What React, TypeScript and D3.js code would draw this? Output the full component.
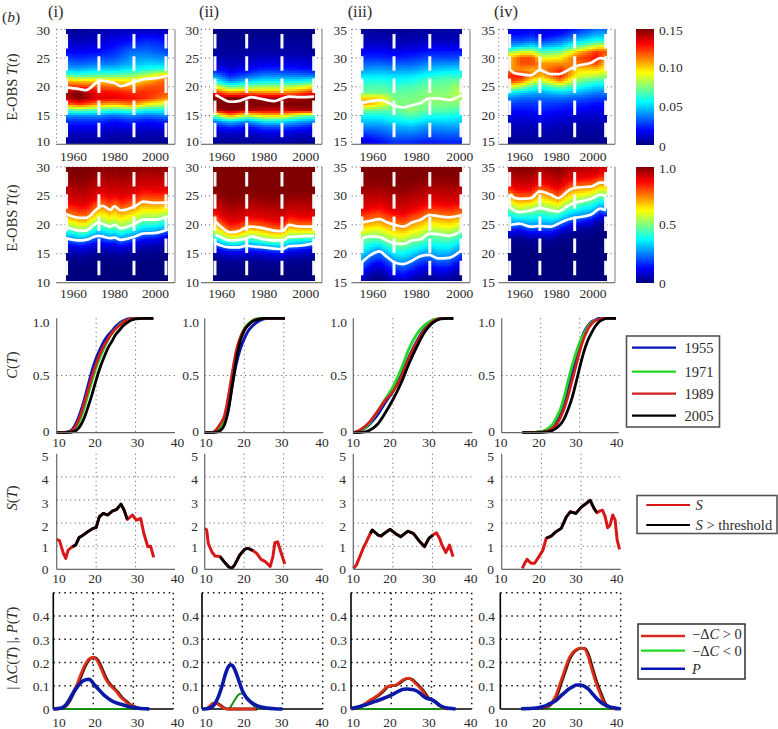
import React from "react";
import * as d3 from "d3";

// ---------- DATA ----------
const heatYearTicks = [1960, 1980, 2000];
const tempTicksLow = [30, 25, 20, 15, 10];
const tempTicksHigh = [35, 30, 25, 20, 15];
const cdfTicks = [0, 0.5, 1];
const sTicks = [0, 1, 2, 3, 4, 5];
const dTicks = [0, 0.1, 0.2, 0.3, 0.4];
const tempAxisTicks = [10, 20, 30, 40];
const panelNames = ["(i)", "(ii)", "(iii)", "(iv)"];
const pdfBarTicks = [0, 0.05, 0.1, 0.15];
const pdfBarLabels = ["0", "0.05", "0.10", "0.15"];
const cdfBarTicks = [0, 0.5, 1];
const cdfBarLabels = ["0", "0.5", "1.0"];
const legendYears = ["1955", "1971", "1989", "2005"];

const dashYears_i = [1956.6, 1972.4, 1989.5, 2005.1];
const dashYears_ii = [1956.8, 1971.9, 1988.7, 2003.8];
const dashYears_iii = [1954.9, 1969.7, 1986.2, 2000.6];
const dashYears_iv = [1954.5, 1971, 1990, 2006.9];

// PDF heat maps (values in units of 0.01): rows are temperatures, columns are years
const pdfYears_i = [1956, 1963, 1972, 1980, 1988, 1996, 2006];
const pdfTemps_i = [30, 28, 26, 25, 24, 23, 22, 21, 20, 19, 18, 17, 16, 15, 14, 12, 10];
const pdfRows_i = [
  [0.3, 0.3, 0.5, 0.8, 0.8, 0.8, 0.8],
  [1, 0.8, 1, 1.6, 2, 2.5, 2],
  [2, 1.8, 2, 2.5, 3.5, 3.5, 3],
  [2.7, 2.5, 2.8, 3, 4, 4.2, 3.8],
  [3.5, 3.3, 3.6, 3.8, 4.5, 5, 4.8],
  [4.5, 4.5, 5, 5, 5.5, 6, 6.5],
  [7, 6.5, 7, 7, 7.5, 8.5, 10.5],
  [10.5, 10, 10, 10, 9.5, 10.5, 12],
  [12.5, 12.5, 12, 11.5, 11, 12, 12],
  [14.5, 15, 13, 13, 12.5, 12.5, 12],
  [14, 15, 13.5, 13.5, 13, 12.5, 11],
  [11.5, 12.5, 11, 10.5, 11.5, 9.5, 8.5],
  [7, 7.5, 7, 6.5, 7, 6, 6],
  [4, 4, 4, 3.5, 4, 3.5, 4],
  [2.5, 2.5, 2.5, 2, 2.5, 2, 2.5],
  [1, 1, 1, 0.8, 0.8, 0.8, 0.8],
  [0.3, 0.3, 0.3, 0.3, 0.2, 0.2, 0.2],
];
const pdfYears_ii = [1957, 1964, 1972, 1980, 1988, 1996, 2004];
const pdfTemps_ii = [30, 26, 24, 23, 22, 21, 20, 19, 18, 17, 16, 15, 14, 13, 12, 10];
const pdfRows_ii = [
  [0.1, 0.1, 0.1, 0.1, 0.1, 0.1, 0.1],
  [0.5, 0.4, 0.5, 0.6, 0.6, 0.6, 0.5],
  [1.2, 0.8, 1.2, 1.5, 1.5, 1.4, 1.2],
  [2, 1.4, 1.8, 2.4, 2.4, 2.2, 2],
  [3.8, 2.2, 3, 3.8, 3.7, 3.6, 3.4],
  [5.8, 3.8, 4.8, 5.4, 5.4, 5.4, 6],
  [9, 6.8, 7.5, 8, 8, 8.5, 9.5],
  [12.5, 11, 11.5, 11, 11, 11.5, 13],
  [15, 15, 15, 14.5, 14.5, 14.5, 15],
  [15, 15, 15, 15, 15, 15, 15],
  [14.5, 15, 14.5, 14, 14, 14.5, 14.5],
  [7.5, 11, 8.5, 10, 10, 8, 7],
  [3.8, 5, 4, 5.5, 5.5, 4.5, 4],
  [2, 2.5, 2, 3, 3, 2.6, 2],
  [1, 1.2, 1, 1.5, 1.5, 1.2, 1],
  [0.2, 0.2, 0.2, 0.3, 0.3, 0.2, 0.2],
];
const pdfYears_iii = [1955, 1963, 1970, 1978, 1986, 1994, 2001];
const pdfTemps_iii = [35, 33, 32, 30, 28, 27, 26, 25, 24, 23, 22, 21, 20, 18, 16, 15];
const pdfRows_iii = [
  [0.3, 0.4, 0.3, 0.3, 0.4, 0.5, 0.4],
  [0.8, 0.8, 0.7, 0.8, 0.9, 0.9, 0.9],
  [1.3, 1.3, 1.1, 1.2, 1.5, 1.5, 1.5],
  [2.5, 2.5, 2.3, 2.5, 3, 2.9, 3],
  [4.1, 4.3, 4.1, 4.1, 4.8, 5, 5.2],
  [5.1, 5.3, 5, 5.2, 5.8, 6.2, 6.2],
  [6, 6.2, 5.8, 6, 6.8, 7, 7.2],
  [6.6, 6.8, 6.5, 6.7, 7.2, 7.3, 8.2],
  [7.1, 7.2, 7, 7.1, 7.6, 7.6, 8.6],
  [10, 10, 7.4, 7.4, 7.8, 7.8, 8.2],
  [11, 9.6, 7.4, 7.6, 7.5, 7.5, 7.5],
  [7.6, 7.3, 7, 7.8, 7, 7, 6.6],
  [5.8, 5.8, 6.3, 6.9, 6, 6, 5.6],
  [3.8, 3.9, 4.4, 4.6, 4, 4.2, 4.2],
  [1.8, 2.4, 3, 3, 2.6, 2.8, 2.8],
  [1.1, 1.8, 2.4, 2.2, 2, 2.2, 2.2],
];
const pdfYears_iv = [1955, 1961, 1967, 1972, 1982, 1992, 2002, 2007];
const pdfTemps_iv = [35, 34, 33, 32, 31, 30, 29, 28, 27, 26, 25, 24, 23, 22, 20, 18, 15];
const pdfRows_iv = [
  [1.5, 1.5, 1.8, 1.2, 1.5, 2.5, 3.5, 3.5],
  [2, 2, 2.4, 1.6, 2.2, 3.5, 4.5, 4.5],
  [3, 3, 3.5, 2.6, 3.5, 5, 6, 6],
  [4.5, 5, 5.5, 4.5, 5, 7, 9, 9.5],
  [8, 9, 9, 7, 7.5, 10.5, 12.5, 12],
  [10.5, 12, 12, 9, 9.5, 12, 13, 11],
  [10.5, 12, 12, 11, 11, 11.5, 12, 10],
  [11, 11, 10.5, 11, 12.5, 10, 10, 9.5],
  [12.5, 13, 11.5, 10.5, 13, 9, 8.5, 8],
  [12.5, 11.5, 9, 8.5, 11, 7.5, 6.5, 6.5],
  [9, 8, 6.5, 6, 7.5, 6, 5, 5],
  [5.5, 5, 4.6, 4.4, 5, 4.5, 3.8, 3.8],
  [3.8, 3.4, 3.4, 3.4, 3.5, 3.2, 2.8, 2.8],
  [2.8, 2.6, 2.6, 2.8, 2.6, 2.4, 2, 2],
  [1.5, 1.5, 1.6, 1.8, 1.5, 1.2, 1.1, 1.1],
  [0.8, 0.8, 0.8, 1, 0.8, 0.6, 0.6, 0.6],
  [0.3, 0.3, 0.3, 0.3, 0.3, 0.2, 0.2, 0.2],
];

// White quantile lines, year by year
const lineYears_i = [1956, 1963, 1966, 1972, 1974, 1978, 1980, 1983, 1990, 1994, 2000, 2006];
const q75_i = [21.9, 21.2, 21.2, 22.9, 23.3, 22.6, 23.2, 22.5, 23.2, 24, 23.8, 23.9];
const q50_i = [19.7, 19, 19, 20.4, 20.2, 19.7, 20, 19.4, 20.2, 20.9, 20.9, 21.5];
const q25_i = [17.7, 17.3, 17.4, 18.1, 18, 17.7, 17.8, 17.4, 18, 18.5, 18.6, 19.2];
const mid_i = [19.9, 19.6, 19.4, 20.9, 21.1, 20.8, 20.7, 20.1, 20.9, 21.3, 21.5, 21.9];

const lineYears_ii = [1957, 1959, 1964, 1968, 1972, 1974, 1980, 1985, 1989, 1992, 1997, 2004];
const q75_ii = [20.6, 19.9, 18.7, 18.9, 19.6, 19.7, 19.4, 19, 18.9, 20, 19.7, 19.7];
const q50_ii = [18.3, 18, 17.3, 17.4, 17.7, 18, 17.5, 17.3, 17.3, 17.9, 18, 18.1];
const q25_ii = [16.9, 16.5, 16.1, 16.1, 16.4, 16.3, 16.1, 15.9, 15.8, 16.3, 16.4, 16.8];
const mid_ii = [18.6, 18.2, 17.4, 17.5, 18, 18.2, 17.8, 17.5, 18, 18.3, 18.2, 18.3];

const lineYears_iii = [1955, 1959, 1963, 1966, 1970, 1974, 1978, 1982, 1986, 1990, 1995, 2001];
const q75_iii = [25.4, 25.7, 26, 25.5, 25, 24.7, 25.4, 25.9, 26.7, 26.5, 26.3, 26.7];
const q50_iii = [22.7, 23, 22.9, 22.4, 21.8, 21.7, 22.3, 22.5, 23.5, 23.4, 23.1, 24];
const q25_iii = [18.6, 19.8, 20.4, 19.6, 18.5, 18.2, 18.8, 19.6, 19.8, 19.2, 19.3, 20.7];
const mid_iii = [22.2, 22.5, 22.7, 22.4, 21.7, 21.4, 21.8, 22.2, 23, 23, 22.7, 23.6];

const lineYears_iv = [1955, 1957, 1960, 1966, 1971, 1977, 1981, 1987, 1990, 1999, 2004, 2007];
const q75_iv = [30.3, 29.7, 29.5, 29.6, 30.8, 30.2, 29.6, 31, 31.4, 31.6, 32.3, 32.3];
const q50_iv = [28, 27.5, 27.2, 27.5, 27.9, 27.5, 27.3, 28.4, 28.8, 29.5, 30.2, 30];
const q25_iv = [25, 25.1, 25.2, 24.7, 24.8, 24.7, 25.2, 26, 26.2, 26.8, 27.8, 27.5];
const mid_iv = [27.9, 27.4, 27.2, 27, 27.9, 27.2, 27.2, 28, 28.5, 29.2, 30, 29.8];

// Distance of the 2%, 10% and 90%, 98% levels from the nearest quartile (degrees)
const tails_i = [-3, -1.3, 2.3, 6];
const tails_ii = [-2.5, -1, 1.8, 5];
const tails_iii = [-4, -2.3, 2.4, 6];
const tails_iv = [-2.5, -1.3, 1.8, 4.5];

// C(T)
const cT_i = [10, 12, 13, 14, 15, 16, 17, 18, 19, 20, 21, 22, 23, 24, 25, 26, 27, 28, 29, 30, 32, 34.5];
const c1955_i = [0, 0.002, 0.01, 0.03, 0.09, 0.18, 0.29, 0.42, 0.55, 0.65, 0.73, 0.8, 0.85, 0.89, 0.93, 0.96, 0.98, 0.995, 1, 1, 1, 1];
const c1971_i = [0, 0.001, 0.005, 0.015, 0.05, 0.12, 0.22, 0.34, 0.46, 0.57, 0.66, 0.74, 0.81, 0.87, 0.91, 0.945, 0.97, 0.985, 0.995, 1, 1, 1];
const c1989_i = [0, 0.002, 0.008, 0.02, 0.07, 0.15, 0.26, 0.38, 0.5, 0.6, 0.69, 0.76, 0.82, 0.87, 0.91, 0.94, 0.97, 0.985, 0.995, 1, 1, 1];
const c2005_i = [0, 0, 0.002, 0.008, 0.02, 0.06, 0.13, 0.23, 0.34, 0.46, 0.57, 0.66, 0.74, 0.8, 0.86, 0.9, 0.94, 0.965, 0.985, 0.995, 1, 1];

const cT_ii = [10, 12, 13, 14, 15, 16, 17, 18, 19, 20, 21, 22, 23, 24, 25, 26, 28, 30.3];
const c1955_ii = [0, 0.002, 0.01, 0.03, 0.08, 0.21, 0.42, 0.6, 0.73, 0.82, 0.89, 0.93, 0.96, 0.98, 0.995, 1, 1, 1];
const c1971_ii = [0, 0.002, 0.02, 0.05, 0.12, 0.27, 0.5, 0.7, 0.83, 0.91, 0.95, 0.98, 0.995, 1, 1, 1, 1, 1];
const c1989_ii = [0, 0.003, 0.03, 0.08, 0.15, 0.32, 0.53, 0.72, 0.83, 0.9, 0.94, 0.97, 0.99, 0.995, 1, 1, 1, 1];
const c2005_ii = [0, 0.001, 0.005, 0.02, 0.07, 0.2, 0.42, 0.64, 0.8, 0.89, 0.94, 0.97, 0.985, 0.995, 1, 1, 1, 1];

const cT_iii = [10, 12, 14, 16, 18, 20, 22, 24, 26, 28, 30, 32, 34, 35.2];
const c1955_iii = [0, 0.02, 0.07, 0.15, 0.26, 0.36, 0.5, 0.66, 0.8, 0.91, 0.97, 1, 1, 1];
const c1971_iii = [0, 0.02, 0.08, 0.18, 0.29, 0.4, 0.55, 0.73, 0.86, 0.94, 0.985, 1, 1, 1];
const c1989_iii = [0, 0.03, 0.09, 0.18, 0.28, 0.36, 0.48, 0.65, 0.79, 0.9, 0.97, 1, 1, 1];
const c2005_iii = [0, 0.003, 0.02, 0.07, 0.17, 0.29, 0.43, 0.6, 0.75, 0.88, 0.96, 0.995, 1, 1];

const cT_iv = [15.3, 18, 20, 21, 22, 23, 24, 25, 26, 27, 28, 29, 30, 31, 32, 33, 34, 35, 36, 37, 38, 39.3];
const c1955_iv = [0, 0.002, 0.01, 0.015, 0.03, 0.06, 0.1, 0.16, 0.26, 0.39, 0.52, 0.65, 0.77, 0.87, 0.93, 0.97, 0.985, 1, 1, 1, 1, 1];
const c1971_iv = [0, 0.002, 0.01, 0.02, 0.04, 0.07, 0.13, 0.2, 0.31, 0.45, 0.58, 0.69, 0.79, 0.86, 0.92, 0.96, 0.98, 0.99, 1, 1, 1, 1];
const c1989_iv = [0, 0.001, 0.005, 0.01, 0.02, 0.04, 0.07, 0.13, 0.21, 0.32, 0.45, 0.58, 0.71, 0.82, 0.9, 0.95, 0.98, 0.99, 1, 1, 1, 1];
const c2005_iv = [0, 0, 0.002, 0.005, 0.01, 0.02, 0.04, 0.07, 0.12, 0.2, 0.3, 0.43, 0.57, 0.7, 0.8, 0.87, 0.93, 0.97, 0.99, 1, 1, 1];

// S(T) with the interval in which S exceeds the threshold
const sT_i = [10, 10.7, 11.7, 12.3, 12.9, 14, 14.8, 15.7, 16.7, 17.9, 19.2, 20, 20.8, 21.8, 22.9, 24.2, 25.2, 26.3, 27.1, 27.9, 29.2, 30.2, 31.3, 32.1, 33.1, 33.8, 34.6];
const sV_i = [1.29, 1.24, 0.69, 0.47, 0.83, 0.98, 1.05, 1.38, 1.48, 1.63, 1.77, 1.81, 2.27, 2.42, 2.35, 2.53, 2.59, 2.82, 2.56, 2.16, 2.35, 2.13, 2.2, 1.55, 0.98, 1, 0.52];
const sAbove_i = [14, 27.9];
const sT_ii = [10, 10.5, 10.9, 11.8, 12.6, 13.9, 14.9, 16, 16.8, 17.6, 18.9, 20.1, 21, 22.2, 23.2, 24.3, 25.4, 26.6, 27.3, 27.8, 28.5, 29.3, 30.3];
const sV_ii = [1.77, 1.7, 1.12, 0.76, 0.58, 0.55, 0.33, 0.12, 0.03, 0.19, 0.62, 0.86, 0.91, 0.81, 0.69, 0.43, 0.33, 0.12, 0.55, 1.15, 1.19, 0.76, 0.23];
const sAbove_ii = [13.9, 22.2];
const sT_iii = [10, 10.8, 12.5, 13.3, 14.3, 14.8, 16.3, 17, 17.8, 19.3, 20.8, 22, 23.8, 25.2, 26.6, 28, 29.1, 30.1, 31, 31.8, 32.4, 33.4, 34.3, 35.2];
const sV_iii = [0.04, 0.19, 0.91, 1.19, 1.55, 1.7, 1.48, 1.44, 1.55, 1.73, 1.53, 1.41, 1.65, 1.55, 1.24, 0.98, 1.34, 1.48, 1.58, 1.34, 1.05, 0.73, 1.05, 0.55];
const sAbove_iii = [14.3, 30.1];
const sT_iv = [15.2, 15.8, 16.4, 17.4, 18.3, 19.1, 20.4, 21.2, 22.5, 23.7, 25, 26.3, 27.3, 28.7, 30, 31.3, 32.3, 33.3, 34, 34.8, 35.4, 36.1, 36.7, 37.3, 38, 38.6, 39.1, 39.7];
const sV_iv = [0.04, 0.26, 0.43, 0.26, 0.26, 0.47, 0.83, 1.34, 1.44, 1.63, 1.77, 2.27, 2.49, 2.42, 2.68, 2.85, 2.99, 2.63, 2.45, 2.53, 2.56, 2.27, 1.8, 1.91, 2.35, 2.13, 1.27, 0.86];
const sAbove_iv = [21.2, 34];

// |dC(T)| and P(T)
const dT_i = [10, 12, 13, 14, 15, 16, 17, 18, 19, 20, 21, 22, 23, 24, 25, 26, 27, 28, 29, 30, 31, 32];
const dPos_i = [0, 0.003, 0.012, 0.035, 0.07, 0.105, 0.15, 0.19, 0.215, 0.222, 0.21, 0.175, 0.135, 0.108, 0.09, 0.072, 0.05, 0.035, 0.02, 0.012, 0.005, 0];
const dNegT_i = [10, 30];
const dNeg_i = [0, 0];
const pT_i = [10, 12, 13, 14, 15, 16, 17, 18, 19, 20, 21, 22, 23, 24, 25, 26, 27, 28, 29, 30, 31, 32, 33, 34];
const p_i = [0, 0.004, 0.015, 0.04, 0.07, 0.095, 0.115, 0.125, 0.128, 0.11, 0.09, 0.072, 0.055, 0.042, 0.032, 0.025, 0.02, 0.015, 0.01, 0.006, 0.004, 0.002, 0.001, 0];

const dT_ii = [11, 12, 12.8, 13.5, 14.5, 15.5, 16, 23.5];
const dPos_ii = [0, 0.012, 0.025, 0.025, 0.015, 0.004, 0, 0];
const dNegT_ii = [16.8, 17.5, 18, 19, 19.7, 20.5, 21, 22, 23, 24, 25];
const dNeg_ii = [0, 0.02, 0.035, 0.06, 0.067, 0.06, 0.05, 0.03, 0.012, 0.003, 0];
const pT_ii = [10, 11, 12, 13, 14, 15, 16, 16.5, 17, 17.5, 18, 19, 20, 21, 22, 23, 24, 25, 26, 28, 30];
const p_ii = [0, 0.001, 0.004, 0.018, 0.05, 0.1, 0.16, 0.18, 0.19, 0.188, 0.175, 0.13, 0.08, 0.05, 0.032, 0.02, 0.012, 0.007, 0.004, 0.001, 0];

const dT_iii = [10, 12, 14, 15, 16, 18, 19, 20, 21, 22, 23, 24, 25, 26, 27, 28, 29, 30, 31, 32, 33, 34];
const dPos_iii = [0, 0.008, 0.028, 0.04, 0.05, 0.078, 0.095, 0.1, 0.102, 0.112, 0.125, 0.132, 0.128, 0.112, 0.095, 0.075, 0.05, 0.04, 0.03, 0.015, 0.005, 0];
const dNegT_iii = [10, 33];
const dNeg_iii = [0, 0];
const pT_iii = [10, 12, 14, 16, 18, 20, 22, 23, 24, 25, 26, 27, 28, 29, 30, 31, 32, 33, 34, 35, 36];
const p_iii = [0.002, 0.01, 0.02, 0.033, 0.045, 0.06, 0.078, 0.085, 0.086, 0.084, 0.08, 0.07, 0.055, 0.045, 0.04, 0.03, 0.016, 0.008, 0.004, 0.002, 0];

const dT_iv = [20, 21, 22, 23, 24, 25, 26, 27, 28, 29, 30, 31, 32, 33, 34, 35, 36, 37, 38, 39];
const dPos_iv = [0.002, 0.006, 0.012, 0.03, 0.06, 0.11, 0.16, 0.21, 0.24, 0.255, 0.262, 0.26, 0.225, 0.165, 0.11, 0.065, 0.025, 0.01, 0.003, 0];
const dNegT_iv = [20, 38];
const dNeg_iv = [0, 0];
const pT_iv = [15.2, 18, 20, 21, 22, 23, 24, 25, 26, 27, 28, 29, 30, 31, 32, 33, 34, 35, 36, 37, 38, 39, 40];
const p_iv = [0.001, 0.003, 0.007, 0.012, 0.02, 0.028, 0.038, 0.055, 0.07, 0.085, 0.095, 0.103, 0.103, 0.097, 0.085, 0.065, 0.045, 0.03, 0.018, 0.01, 0.006, 0.003, 0];

// ---------- PANEL TABLES ----------
const panels = [
  { dash: dashYears_i, pdfYears: pdfYears_i, pdfTemps: pdfTemps_i, pdfRows: pdfRows_i, lineYears: lineYears_i, q75: q75_i, q50: q50_i, q25: q25_i, mid: mid_i, tails: tails_i, cT: cT_i, c: [c1955_i, c1971_i, c1989_i, c2005_i], sT: sT_i, sV: sV_i, sAbove: sAbove_i, dT: dT_i, dPos: dPos_i, dNegT: dNegT_i, dNeg: dNeg_i, pT: pT_i, p: p_i, ticks: tempTicksLow, tMin: 10, tMax: 30 },
  { dash: dashYears_ii, pdfYears: pdfYears_ii, pdfTemps: pdfTemps_ii, pdfRows: pdfRows_ii, lineYears: lineYears_ii, q75: q75_ii, q50: q50_ii, q25: q25_ii, mid: mid_ii, tails: tails_ii, cT: cT_ii, c: [c1955_ii, c1971_ii, c1989_ii, c2005_ii], sT: sT_ii, sV: sV_ii, sAbove: sAbove_ii, dT: dT_ii, dPos: dPos_ii, dNegT: dNegT_ii, dNeg: dNeg_ii, pT: pT_ii, p: p_ii, ticks: tempTicksLow, tMin: 10, tMax: 30 },
  { dash: dashYears_iii, pdfYears: pdfYears_iii, pdfTemps: pdfTemps_iii, pdfRows: pdfRows_iii, lineYears: lineYears_iii, q75: q75_iii, q50: q50_iii, q25: q25_iii, mid: mid_iii, tails: tails_iii, cT: cT_iii, c: [c1955_iii, c1971_iii, c1989_iii, c2005_iii], sT: sT_iii, sV: sV_iii, sAbove: sAbove_iii, dT: dT_iii, dPos: dPos_iii, dNegT: dNegT_iii, dNeg: dNeg_iii, pT: pT_iii, p: p_iii, ticks: tempTicksHigh, tMin: 15, tMax: 35 },
  { dash: dashYears_iv, pdfYears: pdfYears_iv, pdfTemps: pdfTemps_iv, pdfRows: pdfRows_iv, lineYears: lineYears_iv, q75: q75_iv, q50: q50_iv, q25: q25_iv, mid: mid_iv, tails: tails_iv, cT: cT_iv, c: [c1955_iv, c1971_iv, c1989_iv, c2005_iv], sT: sT_iv, sV: sV_iv, sAbove: sAbove_iv, dT: dT_iv, dPos: dPos_iv, dNegT: dNegT_iv, dNeg: dNeg_iv, pT: pT_iv, p: p_iv, ticks: tempTicksHigh, tMin: 15, tMax: 35 },
];

// ---------- LAYOUT ----------
const FONT = "'Liberation Serif', 'Times New Roman', serif";
const W = 778, H = 729;
const TICK = "#2b2b2b";
const AXIS = "#7d7d7d";
const BLUE = "#0a14b4", GREEN = "#22d822", RED = "#cf1f1f", BLACK = "#000";
const cdfColors = [BLUE, GREEN, RED, BLACK];

const heatGeom = [
  { frameL: 56.5, frameR: 175, heatL: 65.5, heatR: 168, y1960: 73.5, y2000: 155.5, titleX: 55.7, labelR: 50 },
  { frameL: 201, frameR: 322, heatL: 213, heatR: 315, y1960: 221.7, y2000: 305.7, titleX: 209, labelR: 199 },
  { frameL: 351.7, frameR: 470, heatL: 360.7, heatR: 462.3, y1960: 373, y2000: 459.7, titleX: 360, labelR: 347 },
  { frameL: 498.7, frameR: 615, heatL: 508, heatR: 607.3, y1960: 519.7, y2000: 593, titleX: 506, labelR: 495 },
];
const rowPdf = { top: 29.3, bottom: 144.3, heatBottom: 144, dashStart: 34, dashEnd: 138, labelY: 156 };
const rowCdf = { top: 167, bottom: 282.7, heatBottom: 280.7, dashStart: 172, dashEnd: 276, labelY: 293 };

const cdfRanges = [[56.7, 175], [204.7, 323.3], [353.3, 472.3], [501.7, 618.7]];
const sRanges = [[56.7, 175], [204.7, 323], [353.3, 472], [501.7, 620.7]];
const dRanges = [[53.3, 173.3], [202, 322.7], [351, 471.7], [500.3, 620.7]];
const xLabelPos = [[59, 95, 137.5, 177.5], [206, 244, 281.7, 322], [353.3, 390, 429, 470.7], [500.7, 539, 576, 616.7]];
const yLabelR = [49.5, 199, 347, 495];

const cdfY = d3.scaleLinear().domain([0, 1]).range([432.7, 318.3]);
const sY = d3.scaleLinear().domain([0, 5]).range([569.3, 453.8]);
const dY = d3.scaleLinear().domain([0, 0.5]).range([709, 592.7]);

// MATLAB jet
const jet = d3
  .scaleLinear<string>()
  .domain([0, 0.125, 0.375, 0.625, 0.875, 1])
  .range(["#00007f", "#0000ff", "#00ffff", "#ffff00", "#ff0000", "#7f0000"])
  .clamp(true);

type Cell = { x: number; y: number; w: number; h: number; fill: string };

function yearScale(g: (typeof heatGeom)[number]) {
  return d3.scaleLinear().domain([1960, 2000]).range([g.y1960, g.y2000]);
}

function pdfCells(p: (typeof panels)[number], g: (typeof heatGeom)[number]): Cell[] {
  const x = yearScale(g);
  const y = d3.scaleLinear().domain([p.tMin, p.tMax]).range([rowPdf.bottom, rowPdf.top]);
  const columns = p.pdfYears.map((_, c) =>
    d3.scaleLinear().domain(p.pdfTemps).range(p.pdfRows.map((r) => r[c])).clamp(true)
  );
  const colIndex = d3.scaleLinear().domain(p.pdfYears).range(d3.range(p.pdfYears.length)).clamp(true);
  const cells: Cell[] = [];
  const x0 = Math.round(g.heatL), x1 = Math.round(g.heatR);
  const y0 = Math.round(rowPdf.top), y1 = Math.round(rowPdf.heatBottom);
  for (let px = x0; px < x1; px += 3) {
    const ci = colIndex(x.invert(px + 1.5));
    const a = Math.floor(ci), b = Math.min(a + 1, columns.length - 1), f = ci - a;
    for (let py = y0; py < y1; py += 2) {
      const t = y.invert(py + 1);
      const v = columns[a](t) * (1 - f) + columns[b](t) * f;
      cells.push({ x: px, y: py, w: Math.min(3, x1 - px), h: Math.min(2, y1 - py), fill: jet(v / 15) });
    }
  }
  return cells;
}

function cdfCells(p: (typeof panels)[number], g: (typeof heatGeom)[number]): Cell[] {
  const x = yearScale(g);
  const y = d3.scaleLinear().domain([p.tMin, p.tMax]).range([rowCdf.bottom, rowCdf.top]);
  const sc = (vals: number[]) => d3.scaleLinear().domain(p.lineYears).range(vals).clamp(true);
  const s25 = sc(p.q25), s50 = sc(p.q50), s75 = sc(p.q75);
  const [l02, l10, h90, h98] = p.tails;
  const cells: Cell[] = [];
  const x0 = Math.round(g.heatL), x1 = Math.round(g.heatR);
  const y0 = Math.round(rowCdf.top), y1 = Math.round(rowCdf.heatBottom);
  for (let px = x0; px < x1; px += 3) {
    const yr = x.invert(px + 1.5);
    const q25 = s25(yr), q50 = s50(yr), q75 = s75(yr);
    const level = d3
      .scaleLinear()
      .domain([q25 + l02 - 2, q25 + l02, q25 + l10, q25, q50, q75, q75 + h90, q75 + h98, q75 + h98 + 1.5])
      .range([0, 0.02, 0.1, 0.25, 0.5, 0.75, 0.9, 0.98, 1])
      .clamp(true);
    for (let py = y0; py < y1; py += 2) {
      const t = y.invert(py + 1);
      cells.push({ x: px, y: py, w: Math.min(3, x1 - px), h: Math.min(2, y1 - py), fill: jet(level(t)) });
    }
  }
  return cells;
}

const curve = (xs: number[], ys: number[], x: (v: number) => number, y: (v: number) => number, smooth = false) =>
  d3
    .line<number>()
    .x((_, i) => x(xs[i]))
    .y((_, i) => y(ys[i]))
    .curve(smooth ? d3.curveMonotoneX : d3.curveLinear)(xs) || "";

const Txt = (props: any) => <text fontFamily={FONT} fill={TICK} fontSize={13} {...props} />;

function HeatPanel({ idx, kind }: { idx: number; kind: "pdf" | "cdf" }) {
  const p = panels[idx];
  const g = heatGeom[idx];
  const row = kind === "pdf" ? rowPdf : rowCdf;
  const x = yearScale(g);
  const y = d3.scaleLinear().domain([p.tMin, p.tMax]).range([row.bottom, row.top]);
  const cells = React.useMemo(() => (kind === "pdf" ? pdfCells(p, g) : cdfCells(p, g)), [idx, kind]);
  const lines = kind === "pdf" ? [p.mid] : [p.q75, p.q50, p.q25];
  return (
    <g>
      {p.ticks.map((t) => (
        <line key={t} x1={g.frameL} x2={g.frameR} y1={y(t)} y2={y(t)} stroke="#555" strokeWidth={1} strokeDasharray="1 3" />
      ))}
      {kind === "pdf" && (
        <line x1={g.frameL} x2={g.frameL} y1={row.top} y2={row.bottom} stroke="#666" strokeWidth={1} strokeDasharray="1 3" />
      )}
      <g shapeRendering="crispEdges" filter="url(#soft)">
        {cells.map((c, i) => (
          <rect key={i} x={c.x} y={c.y} width={c.w} height={c.h} fill={c.fill} />
        ))}
      </g>
      <line x1={g.frameL} x2={g.frameR} y1={row.bottom} y2={row.bottom} stroke={AXIS} strokeWidth={1.2} />
      <line x1={g.frameR} x2={g.frameR} y1={row.top} y2={row.bottom} stroke={AXIS} strokeWidth={1} />
      {p.dash.map((d) => (
        <line key={d} x1={x(d)} x2={x(d)} y1={row.dashStart} y2={row.dashEnd} stroke="#f6f6f6" strokeWidth={3} strokeDasharray="14.5 7.7" />
      ))}
      {lines.map((l, i) => (
        <path key={i} d={curve(p.lineYears, l, x, y, true)} fill="none" stroke="#fff" strokeWidth={2.7} strokeLinejoin="round" />
      ))}
      {p.ticks.map((t) => {
        const shift = kind === "pdf" ? (t === p.tMax ? 1.4 : t === p.tMin ? -2.4 : 0) : 0;
        return (
          <Txt key={t} x={g.labelR} y={y(t) + shift} textAnchor="end" dominantBaseline="central" fontSize={13.5}>
            {t}
          </Txt>
        );
      })}
      {heatYearTicks.map((t) => (
        <Txt key={t} x={x(t)} y={row.labelY} textAnchor="middle" dominantBaseline="central" fontSize={13.5}>
          {t}
        </Txt>
      ))}
    </g>
  );
}

function ColorBar({ top, bottom, max, ticks, labels }: { top: number; bottom: number; max: number; ticks: number[]; labels: string[] }) {
  const y = d3.scaleLinear().domain([0, max]).range([bottom, top]);
  const ys = d3.range(Math.round(top), Math.round(bottom), 1);
  return (
    <g>
      <g shapeRendering="crispEdges">
        {ys.map((py) => (
          <rect key={py} x={636} y={py} width={18} height={1} fill={jet(y.invert(py + 0.5) / max)} />
        ))}
      </g>
      {ticks.map((t, i) => (
        <Txt key={t} x={659} y={y(t) + (i === 0 ? 1 : i === ticks.length - 1 ? 1.5 : 0)} dominantBaseline="central" fontSize={13.5}>
          {labels[i]}
        </Txt>
      ))}
    </g>
  );
}

function AxisLabels({ idx, y }: { idx: number; y: number }) {
  return (
    <g>
      {tempAxisTicks.map((t, i) => (
        <Txt key={t} x={xLabelPos[idx][i]} y={y} textAnchor="middle" dominantBaseline="central" fontSize={13.5}>
          {t}
        </Txt>
      ))}
    </g>
  );
}

function CdfPanel({ idx }: { idx: number }) {
  const p = panels[idx];
  const x = d3.scaleLinear().domain([10, 40]).range(cdfRanges[idx]);
  return (
    <g>
      <line x1={x(10)} x2={x(40) + 2} y1={cdfY(0.5)} y2={cdfY(0.5)} stroke="#555" strokeDasharray="1 3.5" />
      {[20, 30].map((t) => (
        <line key={t} x1={x(t)} x2={x(t)} y1={cdfY(1)} y2={cdfY(0)} stroke="#555" strokeDasharray="1 3.5" />
      ))}
      {p.c.map((vals, i) => (
        <path key={i} d={curve(p.cT, vals, x, cdfY, true)} fill="none" stroke={cdfColors[i]} strokeWidth={2.8} strokeLinejoin="round" />
      ))}
      <line x1={x(10)} x2={x(10)} y1={cdfY(1)} y2={cdfY(0)} stroke="#666" strokeWidth={1.2} />
      <line x1={x(10)} x2={x(40)} y1={cdfY(0)} y2={cdfY(0)} stroke="#666" strokeWidth={1.2} />
      {cdfTicks.map((t) => (
        <Txt key={t} x={yLabelR[idx]} y={cdfY(t) + (t === 1 ? 4 : t === 0 ? -1 : 0)} textAnchor="end" dominantBaseline="central" fontSize={13.5}>
          {t === 0 ? "0" : t.toFixed(1)}
        </Txt>
      ))}
      <AxisLabels idx={idx} y={442.7} />
    </g>
  );
}

function SPanel({ idx }: { idx: number }) {
  const p = panels[idx];
  const x = d3.scaleLinear().domain([10, 40]).range(sRanges[idx]);
  const [a, b] = p.sAbove;
  const keep = p.sT.map((t) => t >= a && t <= b);
  const hiT = p.sT.filter((_, i) => keep[i]);
  const hiV = p.sV.filter((_, i) => keep[i]);
  return (
    <g>
      {[1, 2, 3, 4].map((t) => (
        <line key={t} x1={x(10)} x2={x(40)} y1={sY(t)} y2={sY(t)} stroke="#555" strokeDasharray="1 3.5" />
      ))}
      {[20, 30].map((t) => (
        <line key={t} x1={x(t)} x2={x(t)} y1={sY(5)} y2={sY(0)} stroke="#555" strokeDasharray="1 3.5" />
      ))}
      <path d={curve(p.sT, p.sV, x, sY)} fill="none" stroke="#d81818" strokeWidth={3} strokeLinejoin="round" />
      <path d={curve(hiT, hiV, x, sY)} fill="none" stroke="#000" strokeWidth={2.8} strokeLinejoin="round" />
      <line x1={x(10)} x2={x(10)} y1={sY(5)} y2={sY(0)} stroke="#666" strokeWidth={1.2} />
      <line x1={x(10)} x2={x(40)} y1={sY(0)} y2={sY(0)} stroke="#666" strokeWidth={1.2} />
      {sTicks.map((t) => (
        <Txt key={t} x={yLabelR[idx] - 1} y={sY(t) + (t === 0 ? 0 : t === 1 ? 1 : 3)} textAnchor="end" dominantBaseline="central" fontSize={13.5}>
          {t}
        </Txt>
      ))}
      <AxisLabels idx={idx} y={578} />
    </g>
  );
}

function DPanel({ idx }: { idx: number }) {
  const p = panels[idx];
  const x = d3.scaleLinear().domain([10, 40]).range(dRanges[idx]);
  const grid = "#111";
  return (
    <g>
      {[0.1, 0.2, 0.3, 0.4, 0.5].map((t) => (
        <line key={t} x1={x(10)} x2={x(40)} y1={dY(t)} y2={dY(t)} stroke={grid} strokeWidth={1.5} strokeDasharray="1.5 4" />
      ))}
      {[20, 30, 40].map((t) => (
        <line key={t} x1={x(t)} x2={x(t)} y1={dY(0.5)} y2={dY(0)} stroke={grid} strokeWidth={1.5} strokeDasharray="1.5 4" />
      ))}
      <line x1={x(10)} x2={x(40)} y1={dY(0)} y2={dY(0)} stroke="#000" strokeWidth={1.6} />
      <line x1={x(10)} x2={x(10)} y1={dY(0.5)} y2={dY(0)} stroke="#000" strokeWidth={1.6} />
      <path d={curve(p.dNegT, p.dNeg, x, dY, true)} fill="none" stroke="#178f17" strokeWidth={2} />
      <path transform="translate(0.7,0)" d={curve(p.dT, p.dPos, x, dY, true)} fill="none" stroke="#4a1510" strokeWidth={2.8} strokeLinejoin="round" />
      <path transform="translate(-0.5,0)" d={curve(p.dT, p.dPos, x, dY, true)} fill="none" stroke="#de3018" strokeWidth={2.6} strokeLinejoin="round" />
      <path d={curve(p.pT, p.p, x, dY, true)} fill="none" stroke="#0a1aa6" strokeWidth={3.6} strokeLinejoin="round" />
      {dTicks.map((t) => (
        <Txt key={t} x={yLabelR[idx]} y={dY(t) + (t === 0 ? 0 : 0.8)} textAnchor="end" dominantBaseline="central" fontSize={13.5}>
          {t === 0 ? "0" : t.toFixed(1)}
        </Txt>
      ))}
      <AxisLabels idx={idx} y={722.7} />
    </g>
  );
}

const It = ({ children }: any) => <tspan fontStyle="italic">{children}</tspan>;

function YLabel({ cy, children }: any) {
  return (
    <text transform={`translate(17,${cy}) rotate(-90)`} textAnchor="middle" fontFamily={FONT} fontSize={14.5} fill={TICK}>
      {children}
    </text>
  );
}

function Box({ x, y, w, h, stroke, sw }: any) {
  return <rect x={x} y={y} width={w} height={h} fill="#fff" stroke={stroke} strokeWidth={sw} />;
}

export default function App() {
  return (
    <svg width={W} height={H} viewBox={`0 0 ${W} ${H}`} style={{ position: "absolute", left: 0, top: 0, background: "#fff" }}>
      <defs>
        <filter id="soft" x="-2%" y="-2%" width="104%" height="104%">
          <feGaussianBlur stdDeviation="0.7" />
        </filter>
      </defs>
      <text x={2} y={22} fontFamily={FONT} fontSize={15.5} fill={TICK}>
        (<It>b</It>)
      </text>
      {panelNames.map((n, i) => (
        <text key={n} x={heatGeom[i].titleX} y={17} textAnchor="middle" fontFamily={FONT} fontSize={16.5} fill={TICK}>
          {n}
        </text>
      ))}
      <YLabel cy={87}>
        E-OBS <It>T</It>(<It>t</It>)
      </YLabel>
      <YLabel cy={218}>
        E-OBS <It>T</It>(<It>t</It>)
      </YLabel>
      <YLabel cy={365}>
        <It>C</It>(<It>T</It>)
      </YLabel>
      <YLabel cy={498}>
        <It>S</It>(<It>T</It>)
      </YLabel>
      <YLabel cy={648}>
        | Δ<It>C</It>(<It>T</It>) |, <It>P</It>(<It>T</It>)
      </YLabel>

      {panels.map((_, i) => (
        <g key={i}>
          <HeatPanel idx={i} kind="pdf" />
          <HeatPanel idx={i} kind="cdf" />
          <CdfPanel idx={i} />
          <SPanel idx={i} />
          <DPanel idx={i} />
        </g>
      ))}

      <ColorBar top={29.3} bottom={145} max={0.15} ticks={pdfBarTicks} labels={pdfBarLabels} />
      <ColorBar top={167} bottom={282.7} max={1} ticks={cdfBarTicks} labels={cdfBarLabels} />

      <Box x={626.5} y={336} w={93} h={91} stroke="#555" sw={1.6} />
      {legendYears.map((n, i) => {
        const ly = [347.7, 371.7, 393.7, 415.7][i];
        return (
          <g key={n}>
            <line x1={632} x2={676} y1={ly} y2={ly} stroke={cdfColors[i]} strokeWidth={2.2} />
            <Txt x={684.5} y={ly} dominantBaseline="central" fontSize={14.5}>
              {n}
            </Txt>
          </g>
        );
      })}

      <Box x={637} y={495.5} w={140} h={38} stroke="#555" sw={1.6} />
      <line x1={646.3} x2={690} y1={505} y2={505} stroke="#d81818" strokeWidth={2.2} />
      <line x1={646.3} x2={690} y1={525} y2={525} stroke="#000" strokeWidth={2.2} />
      <Txt x={695.5} y={505} dominantBaseline="central" fontSize={14.5}>
        <It>S</It>
      </Txt>
      <Txt x={695.5} y={525} dominantBaseline="central" fontSize={14.5}>
        <It>S</It> &gt; threshold
      </Txt>

      <Box x={638} y={624} w={107} h={55} stroke="#222" sw={1.4} />
      <line x1={641} x2={685} y1={636} y2={636} stroke="#d82a20" strokeWidth={2.4} />
      <line x1={641} x2={685} y1={650.7} y2={650.7} stroke={GREEN} strokeWidth={2.2} />
      <line x1={641} x2={685} y1={668.7} y2={668.7} stroke={BLUE} strokeWidth={2.4} />
      <Txt x={692} y={634} dominantBaseline="central" fontSize={14.5}>
        −Δ<It>C</It> &gt; 0
      </Txt>
      <Txt x={692} y={650.5} dominantBaseline="central" fontSize={14.5}>
        −Δ<It>C</It> &lt; 0
      </Txt>
      <Txt x={692} y={668.5} dominantBaseline="central" fontSize={14.5}>
        <It>P</It>
      </Txt>
    </svg>
  );
}
